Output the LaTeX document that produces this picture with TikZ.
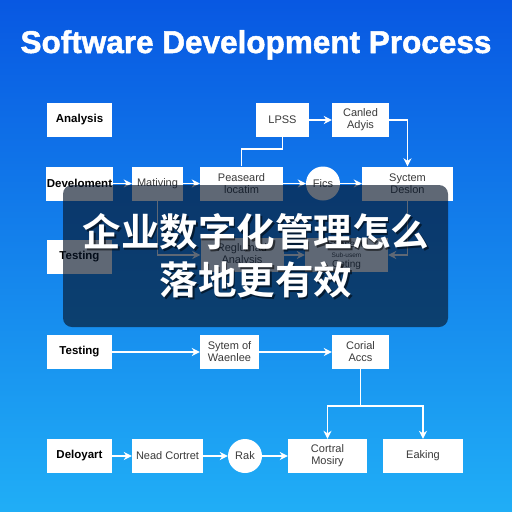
\documentclass[tikz,border=0pt]{standalone}
\usepackage{fontspec}
\setmainfont{Liberation Sans}
\newfontfamily\titlefont{Liberation Sans Bold}[FakeBold=1.6]
\newfontfamily\cjk{Noto Sans CJK SC}[BoldFont={Noto Sans CJK SC Bold}]
\usepackage{tikz}
\usetikzlibrary{arrows.meta}
\usepackage{xcolor}
\definecolor{bgtop}{RGB}{8,88,226}
\definecolor{bgmid}{RGB}{18,130,238}
\definecolor{bgbot}{RGB}{32,174,246}
\definecolor{labelgray}{RGB}{58,58,58}
\definecolor{veil}{RGB}{6,20,40}

\begin{document}
\begin{tikzpicture}[
				x=1pt, y=-1pt,
				box/.style = {fill=white, minimum height=34, inner sep=1pt, align=center, text=labelgray, font=\fontsize{11}{12}\selectfont},
				stagebox/.style = {box, minimum width=65, text=black, font=\bfseries\fontsize{11.5}{13}\selectfont},
				roundbox/.style = {box, circle, minimum size=34, inner sep=0pt},
				arrow/.style = {-{Stealth[length=8pt, width=8pt]}},
				link/.style = {draw=white, line width=1.8pt}
				]
				
				\useasboundingbox (0,0) rectangle (512,512);
				\shade[top color=bgtop, middle color=bgmid, bottom color=bgbot] (0,0) rectangle (512,512);
				
				\node[anchor=base, text=white, font=\titlefont\fontsize{31.5}{36}\selectfont] (title) at (256,53) {Software Development Process};
				
				\node[stagebox] (analysis) at (79.5,120) {Analysis};
				\node[box, minimum width=53] (lpss) at (282.5,120) {LPSS};
				\node[box, minimum width=57] (canled) at (360.5,120) {Canled\\Adyis};
				
				\node[stagebox] (develop) at (79.5,183.5) {Develoment};
				\node[box, minimum width=51] (mativing) at (157.5,183.5) {Mativing};
				\node[box, minimum width=83] (password) at (241.5,183.5) {Peaseard\\locatim};
				\node[roundbox] (fics) at (323,183.5) {Fics};
				\node[box, minimum width=91] (system) at (407.5,183.5) {Syctem\\Deslon};
				
				\node[stagebox] (testhidden) at (79.5,256.5) {Testing};
				\node[box, minimum width=83] (regula) at (242,255) {Reglumad\\Analysis};
				\node[box, minimum width=83, font=\fontsize{10}{10}\selectfont] (coding) at (346.5,255) {Sabsend\\{\fontsize{6.5}{7}\selectfont Sub-usem}\\Coting};
				
				\node[stagebox] (testing) at (79.5,352) {Testing};
				\node[box, minimum width=59] (sytem) at (229.5,352) {Sytem of\\Waenlee};
				\node[box, minimum width=57] (corial) at (360.5,352) {Corial\\Accs};
				
				\node[stagebox] (deploy) at (79.5,456) {Deloyart};
				\node[box, minimum width=71] (nead) at (167.5,456) {Nead Cortret};
				\node[roundbox] (rak) at (245,456) {Rak};
				\node[box, minimum width=79] (control) at (327.5,456) {Cortral\\Mosiry};
				\node[box, minimum width=80] (eaking) at (423,456) {Eaking};
				
				\draw[link, arrow] (lpss) -- (canled);
				\draw[link, arrow] (canled.east) -| (system.north);
				\draw[link] (password.north) |- ++(0,-17) -| (lpss.south);
				\draw[link, arrow] (develop) -- (mativing);
				\draw[link, arrow] (mativing) -- (password);
				\draw[link, arrow] (password) -- (fics);
				\draw[link, arrow] (fics) -- (system);
				\draw[link, arrow] (mativing.south) |- (regula.west);
				\draw[link, arrow] (regula) -- (coding);
				\draw[link, arrow] (system.south) |- (coding.east);
				
				\draw[link, arrow] (testing) -- (sytem);
				\draw[link, arrow] (sytem) -- (corial);
				\draw[link] (corial.south) -- ++(0,37) coordinate (fork);
				\draw[link, arrow] (fork) -| (control.north);
				\draw[link, arrow] (fork) -| (eaking.north);
				\draw[link, arrow] (deploy) -- (nead);
				\draw[link, arrow] (nead) -- (rak);
				\draw[link, arrow] (rak) -- (control);
				
				\fill[veil, fill opacity=0.64, rounded corners=9pt] (63,185) rectangle (448,327);
				
				\node[text=black, text opacity=0.55, font=\cjk\bfseries\fontsize{38.5}{48}\selectfont, align=center] (sloganshadow) at (257.5,257.5) {企业数字化管理怎么\\落地更有效};
				\node[text=white, font=\cjk\bfseries\fontsize{38.5}{48}\selectfont, align=center] (slogan) at (256,256) {企业数字化管理怎么\\落地更有效};
			\end{tikzpicture}
\end{document}
